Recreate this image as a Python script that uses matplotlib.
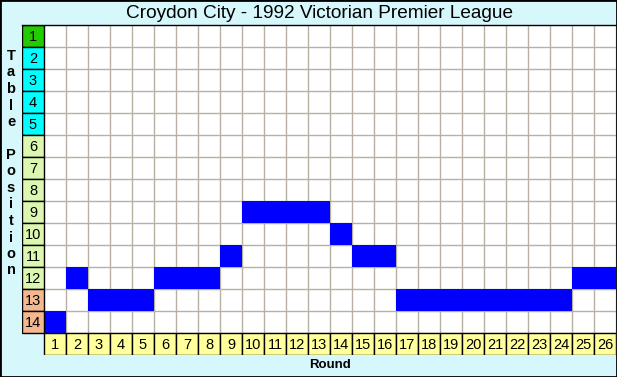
import matplotlib
matplotlib.use("Agg")
import matplotlib.pyplot as plt
from matplotlib.patches import Rectangle

# === DATA ===
title = "Croydon City - 1992 Victorian Premier League"
rounds = list(range(1, 27))
positions = [14, 12, 13, 13, 13, 12, 12, 12, 11, 9, 9, 9, 9,
             10, 11, 11, 13, 13, 13, 13, 13, 13, 13, 13, 12, 12]
table_rows = list(range(1, 15))
row_colors = ["#22cc00"] + ["#00ffff"] * 4 + ["#dcf8b0"] * 7 + ["#f4b890"] * 2

# === STYLE ===
bg = "#d6f7fb"
grid_col = "#b8b0a0"
bar_col = "#0000ff"
round_col = "#ffff9c"
plt.rcParams["font.family"] = ["Liberation Sans", "DejaVu Sans"]

W, H = 617, 377
fig = plt.figure(figsize=(W / 100, H / 100), dpi=100, facecolor=bg)

# axes spans label column + grid + round row (pixel 22..616, 25..355)
ax = fig.add_axes([22 / W, 1 - 355 / H, 594 / W, 330 / H])
ax.set_xlim(-0.5, 26.5)
ax.set_ylim(15.5, 0.5)
ax.axis("off")

# white play area
ax.add_patch(Rectangle((0.5, 0.5), 26, 14, facecolor="white", edgecolor="none", zorder=0))

# grid lines
for x in range(1, 27):
    ax.plot([x + 0.5, x + 0.5], [0.5, 14.5], color=grid_col, lw=1, zorder=1)
for y in range(1, 15):
    ax.plot([0.5, 26.5], [y + 0.5, y + 0.5], color=grid_col, lw=1, zorder=1)

# position bars
ax.bar(rounds, [1] * len(rounds), bottom=[p - 0.5 for p in positions], width=1,
       color=bar_col, edgecolor="none", zorder=2)

# table position label column
ax.barh(table_rows, [1] * len(table_rows), left=-0.5, height=1,
        color=row_colors, edgecolor="black", lw=1, zorder=3)
for r in table_rows:
    ax.text(0, r + 0.03, str(r), ha="center", va="center", fontsize=10.5, zorder=4)

# round label row
ax.bar(rounds, [1] * len(rounds), bottom=14.5, width=1,
       color=round_col, edgecolor="black", lw=1, zorder=3)
for r in rounds:
    ax.text(r, 15.03, str(r), ha="center", va="center", fontsize=10.5, zorder=4)

# top border of grid
ax.plot([-0.5, 26.5], [0.5, 0.5], color="black", lw=1, zorder=4, clip_on=False)

# titles
fig.text(319 / W, 1 - 14 / H, title, ha="center", va="center", fontsize=13.7)
fig.text(330 / W, 1 - 365 / H, "Round", ha="center", va="center",
         fontsize=9.5, fontweight="bold")
label = "Table Position"
y = 56
for ch in label:
    if ch != " ":
        fig.text(11 / W, 1 - y / H, ch, ha="center", va="center",
                 fontsize=10.5, fontweight="bold")
    y += 16.5

# outer border
fig.patches.append(Rectangle((0, 0), 1, 1, transform=fig.transFigure, fill=False,
                             edgecolor="black", lw=2))

fig.savefig("out.png", dpi=100, facecolor=bg)
